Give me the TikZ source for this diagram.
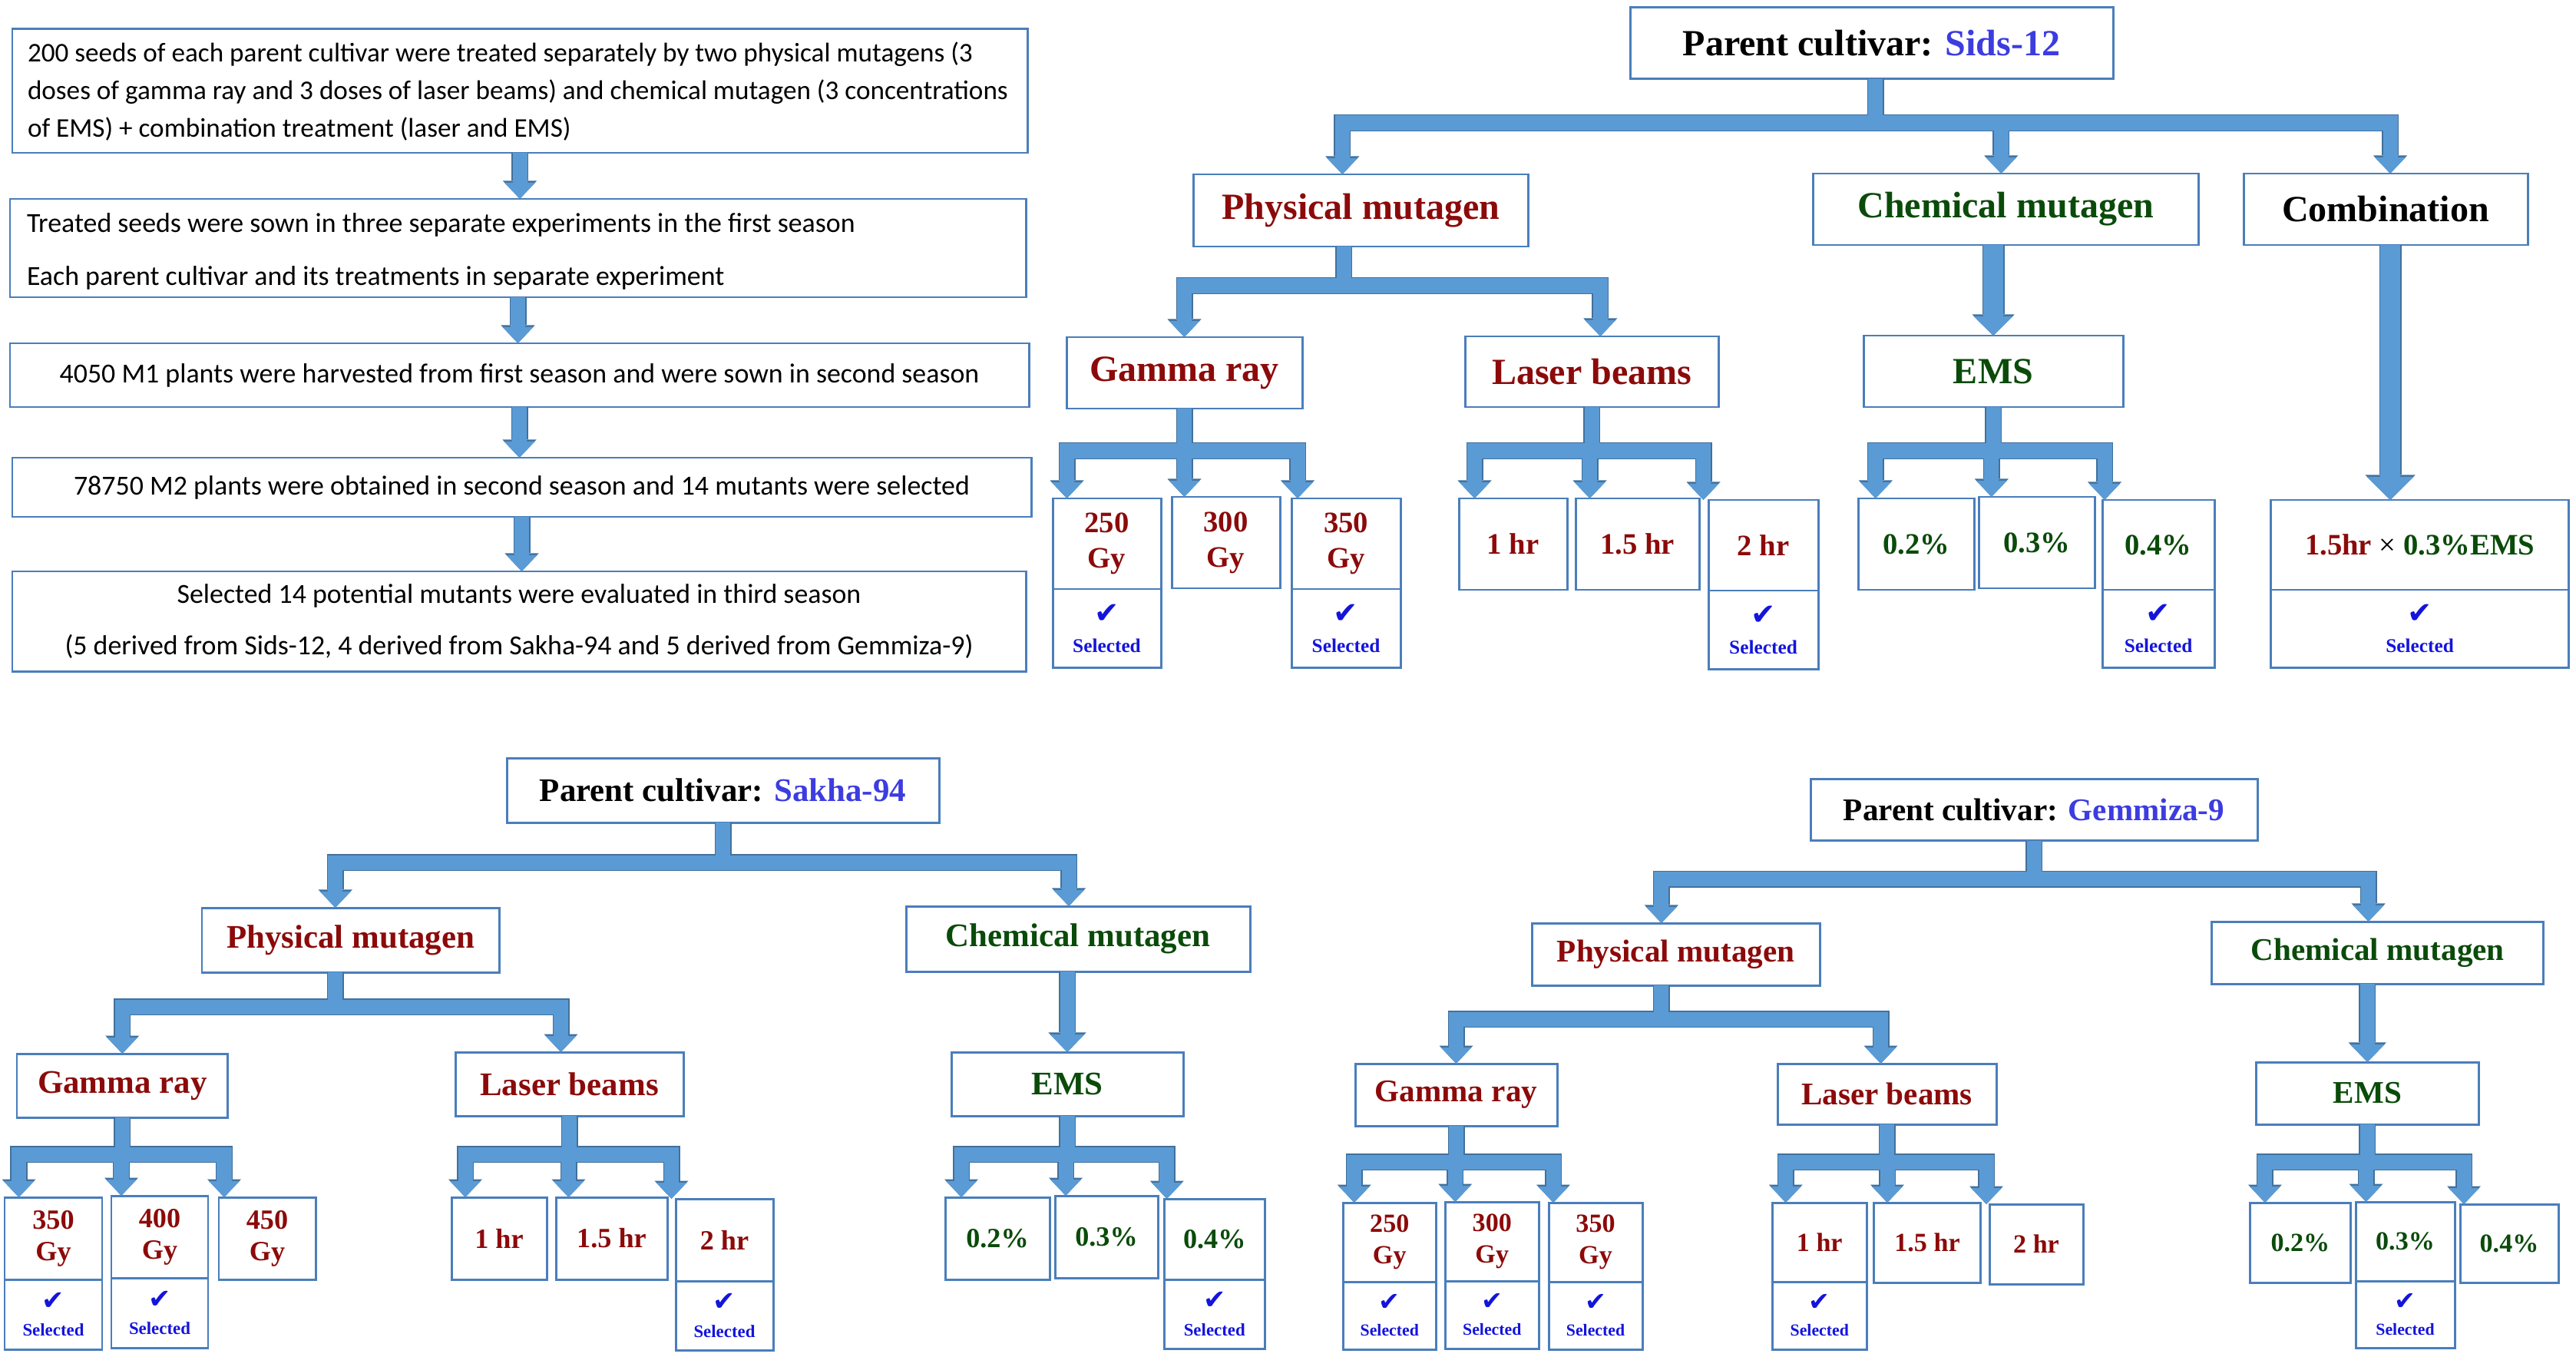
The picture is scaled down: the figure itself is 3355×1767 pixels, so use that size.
\documentclass[tikz,border=0pt]{standalone}
\usepackage{fontspec}
\setmainfont{Liberation Serif}
\newfontfamily\flowfont{Carlito}
\newfontfamily\ckfont{DejaVu Sans}
\usetikzlibrary{arrows.meta}
\definecolor{bord}{RGB}{74,126,187}
\definecolor{cfill}{RGB}{91,155,213}
\definecolor{cline}{RGB}{65,113,156}
\definecolor{dred}{RGB}{140,10,10}
\definecolor{dgreen}{RGB}{10,75,10}
\definecolor{cblue}{RGB}{60,60,225}
\definecolor{sblue}{RGB}{20,20,220}
\tikzset{
  box/.style={rectangle, draw=bord, line width=0.85pt, fill=white, inner sep=0pt, outer sep=0pt},
  fbox/.style={box, font=\flowfont\fontsize{10.2}{18.8}\selectfont, align=center},
  ftext/.style={inner sep=0pt, outer sep=0pt, font=\flowfont\fontsize{10}{13.94}\selectfont, align=left},
  ftextb/.style={inner sep=0pt, outer sep=0pt, font=\flowfont\fontsize{10.2}{19.6}\selectfont, align=left},
  lvA/.style={box, font=\fontsize{13.66}{16}\selectfont\bfseries},
  lvB/.style={box, font=\fontsize{12.2}{14}\selectfont\bfseries},
  lvC/.style={box, font=\fontsize{11.7}{14}\selectfont\bfseries},
  leafA/.style={box, font=\fontsize{11}{13.1}\selectfont\bfseries, align=center},
  leafB/.style={box, font=\fontsize{10.3}{11.7}\selectfont\bfseries, align=center},
  leafC/.style={box, font=\fontsize{9.7}{11.7}\selectfont\bfseries, align=center},
  selA/.style={box, font=\fontsize{7.2}{10.8}\selectfont\bfseries, text=sblue, align=center},
  selB/.style={box, font=\fontsize{6.5}{9.8}\selectfont\bfseries, text=sblue, align=center},
  selC/.style={box, font=\fontsize{6.2}{9.4}\selectfont\bfseries, text=sblue, align=center},
  connF/.style={draw=cfill, line width=0.19cm, line join=miter, -{Triangle[width=0.40cm,length=0.21cm,line width=0pt]}},
  connO/.style={draw=cline, line width=0.22cm, line join=miter, -{Triangle[width=0.44cm,length=0.235cm,line width=0pt]}},
  connTF/.style={draw=cfill, line width=0.26cm, line join=miter, -{Triangle[width=0.51cm,length=0.25cm,line width=0pt]}},
  connTO/.style={draw=cline, line width=0.29cm, line join=miter, -{Triangle[width=0.55cm,length=0.275cm,line width=0pt]}},
  connCF/.style={draw=cfill, line width=0.26cm, line join=miter, -{Triangle[width=0.61cm,length=0.30cm,line width=0pt]}},
  connCO/.style={draw=cline, line width=0.29cm, line join=miter, -{Triangle[width=0.65cm,length=0.325cm,line width=0pt]}},
  connMF/.style={draw=cfill, line width=0.19cm, line join=miter, -{Triangle[width=0.45cm,length=0.23cm,line width=0pt]}},
  connMO/.style={draw=cline, line width=0.22cm, line join=miter, -{Triangle[width=0.49cm,length=0.255cm,line width=0pt]}},
}
\newcommand\mk[7]{\node[#1, minimum width={(#5-#3)*0.01cm}, minimum height={(#6-#4)*0.01cm}] (#2) at ({(#3+#5)/2},{(#4+#6)/2}) {#7};}
\newcommand\br[6]{\draw[#1] ([xshift=#3*0.01cm]#2.south) -- ++(0,#4) -| ([xshift=#6*0.01cm]#5.north);}
\newcommand\ck[1]{{\ckfont\fontsize{#1}{#1}\selectfont ✔}}
\newcommand\allconns[1]{%
  % flow chart
  \draw[conn#1] (f1.south) -- (f1.south |- f2.north);
  \draw[conn#1] (f2.south) -- (f2.south |- f3.north);
  \draw[conn#1] (f3.south) -- (f3.south |- f4.north);
  \draw[conn#1] (f4.south) -- (f4.south |- f5.north);
  % Sids-12
  \br{conn#1}{sids}{5}{57}{phys1}{-24}
  \br{conn#1}{sids}{5}{57}{chem1}{-6}
  \br{conn#1}{sids}{5}{57}{comb1}{6}
  \br{conn#1}{phys1}{-22}{51}{gamma1}{0}
  \br{conn#1}{phys1}{-22}{51}{laser1}{11}
  \br{conn#1}{gamma1}{0}{55}{g250}{-52}
  \br{conn#1}{gamma1}{0}{55}{g300}{-54}
  \br{conn#1}{gamma1}{0}{55}{g350}{-63}
  \br{conn#1}{laser1}{0}{57}{h1}{-50}
  \br{conn#1}{laser1}{0}{57}{h15}{-62}
  \br{conn#1}{laser1}{0}{57}{h2}{-78}
  \draw[connT#1] (chem1.south -| ems1.north) -- (ems1.north);
  \br{conn#1}{ems1}{0}{57}{p02}{-53}
  \br{conn#1}{ems1}{0}{57}{p03}{-59}
  \br{conn#1}{ems1}{0}{57}{p04}{-70}
  \draw[connC#1] ([xshift=0.06cm]comb1.south) -- ([xshift=0.06cm]comb1.south |- cleaf.north);
  % Sakha-94
  \br{conn#1}{sakha}{0}{52}{phys2}{-20}
  \br{conn#1}{sakha}{0}{52}{chem2}{-12}
  \br{conn#1}{phys2}{-20}{45}{gamma2}{0}
  \br{conn#1}{phys2}{-20}{45}{laser2}{-11}
  \br{conn#1}{gamma2}{0}{48}{s350}{-45}
  \br{conn#1}{gamma2}{0}{48}{s400}{-50}
  \br{conn#1}{gamma2}{0}{48}{s450}{-56}
  \br{conn#1}{laser2}{0}{50}{sh1}{-44}
  \br{conn#1}{laser2}{0}{50}{sh15}{-56}
  \br{conn#1}{laser2}{0}{50}{sh2}{-69}
  \draw[connM#1] (chem2.south -| ems2.north) -- (ems2.north);
  \br{conn#1}{ems2}{0}{50}{sp02}{-47}
  \br{conn#1}{ems2}{0}{50}{sp03}{-53}
  \br{conn#1}{ems2}{0}{50}{sp04}{-62}
  % Gemmiza-9
  \br{conn#1}{gem}{0}{50}{phys3}{-19}
  \br{conn#1}{gem}{0}{50}{chem3}{-12}
  \br{conn#1}{phys3}{-19}{44}{gamma3}{0}
  \br{conn#1}{phys3}{-19}{44}{laser3}{-8}
  \br{conn#1}{gamma3}{0}{47}{t250}{-46}
  \br{conn#1}{gamma3}{0}{47}{t300}{-48}
  \br{conn#1}{gamma3}{0}{47}{t350}{-55}
  \br{conn#1}{laser3}{0}{49}{th1}{-44}
  \br{conn#1}{laser3}{0}{49}{th15}{-52}
  \br{conn#1}{laser3}{0}{49}{th2}{-65}
  \draw[connM#1] (chem3.south -| ems3.north) -- (ems3.north);
  \br{conn#1}{ems3}{0}{49}{tp02}{-46}
  \br{conn#1}{ems3}{0}{49}{tp03}{-51}
  \br{conn#1}{ems3}{0}{49}{tp04}{-59}
}
\begin{document}
\begin{tikzpicture}[x=0.01cm,y=-0.01cm]
\useasboundingbox (0,0) rectangle (3355,1767);
\fill[white] (0,0) rectangle (3355,1767);

% ---------- flow chart ----------
\mk{box}{f1}{16}{38}{1338}{199}{}
\node[ftext, anchor=west] (f1t) at (36,119) {200 seeds of each parent cultivar were treated separately by two physical mutagens (3\\doses of gamma ray and 3 doses of laser beams) and chemical mutagen (3 concentrations\\of EMS) + combination treatment (laser and EMS)};
\mk{box}{f2}{13}{259}{1336}{387}{}
\node[ftextb, anchor=west] (f2t) at (35,327.5) {Treated seeds were sown in three separate experiments in the first season\\Each parent cultivar and its treatments in separate experiment};
\mk{fbox}{f3}{13}{447}{1340}{530}{4050 M1 plants were harvested from first season and were sown in second season}
\mk{fbox}{f4}{16}{596}{1343}{673}{78750 M2 plants were obtained in second season and 14 mutants were selected}
\mk{fbox}{f5}{16}{744}{1336}{874}{Selected 14 potential mutants were evaluated in third season\\(5 derived from Sids-12, 4 derived from Sakha-94 and 5 derived from Gemmiza-9)}

% ---------- Sids-12 ----------
\mk{lvA}{sids}{2123}{10}{2752}{103}{Parent cultivar: \textcolor{cblue}{Sids-12}}
\mk{lvA, text=dred}{phys1}{1554.5}{227}{1990}{321}{Physical mutagen}
\mk{lvA, text=dgreen}{chem1}{2361.5}{226}{2863}{319}{Chemical mutagen}
\mk{lvA}{comb1}{2922}{226}{3292}{319}{Combination}
\mk{lvA, text=dred}{gamma1}{1389}{439}{1696}{532}{Gamma ray}
\mk{lvA, text=dred}{laser1}{1908.5}{438}{2238}{530}{Laser beams}
\mk{lvA, text=dgreen}{ems1}{2427}{437}{2765}{530}{EMS}
\mk{leafA, text=dred}{g250}{1371}{649}{1512}{767}{250\\Gy}
\mk{leafA, text=dred}{g300}{1526}{647}{1667}{766}{300\\Gy}
\mk{leafA, text=dred}{g350}{1682}{649}{1824}{767}{350\\Gy}
\mk{leafA, text=dred}{h1}{1900}{649}{2041}{768}{1 hr}
\mk{leafA, text=dred}{h15}{2052}{649}{2213}{768}{1.5 hr}
\mk{leafA, text=dred}{h2}{2225}{651}{2368}{769}{2 hr}
\mk{leafA, text=dgreen}{p02}{2420.5}{649}{2571}{768}{0.2\%}
\mk{leafA, text=dgreen}{p03}{2577.5}{647}{2728}{766}{0.3\%}
\mk{leafA, text=dgreen}{p04}{2738}{651}{2884}{768}{0.4\%}
\mk{leafA}{cleaf}{2957.6}{651}{3345.5}{768}{\textcolor{dred}{1.5hr} {\mdseries ×} \textcolor{dgreen}{0.3\%EMS}}
\mk{selA}{g250s}{1371}{767}{1512}{869}{\ck{11}\\Selected}
\mk{selA}{g350s}{1682}{767}{1824}{869}{\ck{11}\\Selected}
\mk{selA}{h2s}{2225}{769}{2368}{871}{\ck{11}\\Selected}
\mk{selA}{p04s}{2738}{768}{2884}{869}{\ck{11}\\Selected}
\mk{selA}{cleafs}{2957.6}{768}{3345.5}{869}{\ck{11}\\Selected}

% ---------- Sakha-94 ----------
\mk{lvB}{sakha}{660}{987}{1223}{1071}{Parent cultivar: \textcolor{cblue}{Sakha-94}}
\mk{lvB, text=dred}{phys2}{263}{1182}{650.5}{1266}{Physical mutagen}
\mk{lvB, text=dgreen}{chem2}{1180}{1180}{1628}{1265}{Chemical mutagen}
\mk{lvB, text=dred}{gamma2}{22}{1372}{296.5}{1455}{Gamma ray}
\mk{lvB, text=dred}{laser2}{593}{1370}{890}{1453}{Laser beams}
\mk{lvB, text=dgreen}{ems2}{1239}{1370}{1541}{1453}{EMS}
\mk{leafB, text=dred}{s350}{6}{1559}{133}{1666}{350\\Gy}
\mk{leafB, text=dred}{s400}{145}{1557}{271}{1664}{400\\Gy}
\mk{leafB, text=dred}{s450}{285}{1559}{411}{1666}{450\\Gy}
\mk{leafB, text=dred}{sh1}{588}{1559}{712}{1666}{1 hr}
\mk{leafB, text=dred}{sh15}{724}{1559}{869}{1666}{1.5 hr}
\mk{leafB, text=dred}{sh2}{880}{1561}{1007}{1668}{2 hr}
\mk{leafB, text=dgreen}{sp02}{1231}{1559}{1367}{1666}{0.2\%}
\mk{leafB, text=dgreen}{sp03}{1374}{1557}{1508}{1664}{0.3\%}
\mk{leafB, text=dgreen}{sp04}{1516.5}{1561}{1647}{1666}{0.4\%}
\mk{selB}{s350s}{6}{1666}{133}{1757}{\ck{10}\\Selected}
\mk{selB}{s400s}{145}{1664}{271}{1755}{\ck{10}\\Selected}
\mk{selB}{sh2s}{880}{1668}{1007}{1758}{\ck{10}\\Selected}
\mk{selB}{sp04s}{1516.5}{1666}{1647}{1756}{\ck{10}\\Selected}

% ---------- Gemmiza-9 ----------
\mk{lvC}{gem}{2358}{1014}{2940}{1094.5}{Parent cultivar: \textcolor{cblue}{Gemmiza-9}}
\mk{lvC, text=dred}{phys3}{1995.6}{1202}{2370}{1283}{Physical mutagen}
\mk{lvC, text=dgreen}{chem3}{2880.7}{1200}{3312.6}{1281}{Chemical mutagen}
\mk{lvC, text=dred}{gamma3}{1765}{1385}{2028}{1466}{Gamma ray}
\mk{lvC, text=dred}{laser3}{2315}{1385}{2600}{1464}{Laser beams}
\mk{lvC, text=dgreen}{ems3}{2938.5}{1383}{3228}{1464}{EMS}
\mk{leafC, text=dred}{t250}{1749}{1566}{1870.5}{1669}{250\\Gy}
\mk{leafC, text=dred}{t300}{1882.5}{1565}{2004}{1668}{300\\Gy}
\mk{leafC, text=dred}{t350}{2017}{1566}{2139}{1669}{350\\Gy}
\mk{leafC, text=dred}{th1}{2308.5}{1566}{2431}{1669}{1 hr}
\mk{leafC, text=dred}{th15}{2440.5}{1566}{2579.5}{1670}{1.5 hr}
\mk{leafC, text=dred}{th2}{2591}{1568}{2713}{1672}{2 hr}
\mk{leafC, text=dgreen}{tp02}{2930.8}{1566}{3061}{1670}{0.2\%}
\mk{leafC, text=dgreen}{tp03}{3068}{1565}{3197}{1668}{0.3\%}
\mk{leafC, text=dgreen}{tp04}{3204}{1568}{3332}{1670}{0.4\%}
\mk{selC}{t250s}{1749}{1669}{1870.5}{1757}{\ck{9.5}\\Selected}
\mk{selC}{t300s}{1882.5}{1668}{2004}{1756}{\ck{9.5}\\Selected}
\mk{selC}{t350s}{2017}{1669}{2139}{1757}{\ck{9.5}\\Selected}
\mk{selC}{th1s}{2308.5}{1669}{2431}{1757}{\ck{9.5}\\Selected}
\mk{selC}{tp03s}{3068}{1668}{3197}{1755}{\ck{9.5}\\Selected}

% ---------- connectors (outline pass, then fill pass) ----------
\allconns{O}
\allconns{F}
\end{tikzpicture}
\end{document}
